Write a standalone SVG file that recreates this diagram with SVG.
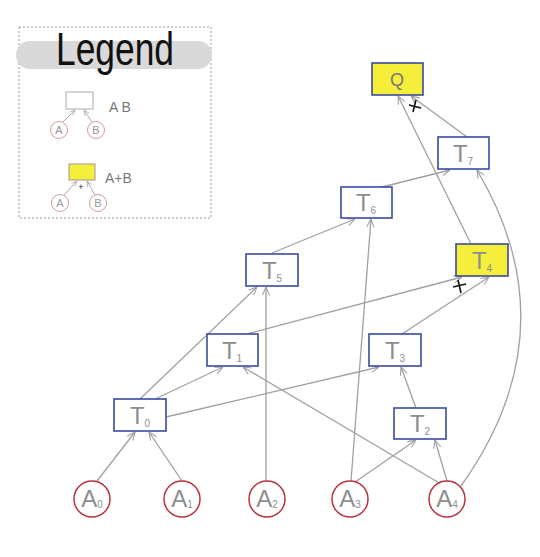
<svg xmlns="http://www.w3.org/2000/svg" width="540" height="557" viewBox="0 0 540 557">
<defs>
<marker id="ah" viewBox="0 0 10 10" refX="10" refY="5" markerWidth="9" markerHeight="9" orient="auto" markerUnits="userSpaceOnUse"><path d="M1,1 L10,5 L1,9" fill="none" stroke="#a0a0a0" stroke-width="1.2"/></marker>
<marker id="ahs" viewBox="0 0 10 10" refX="10" refY="5" markerWidth="6" markerHeight="6" orient="auto" markerUnits="userSpaceOnUse"><path d="M1,1 L10,5 L1,9" fill="none" stroke="#aaa" stroke-width="1.2"/></marker>
<style>
.e{fill:none;stroke:#a0a0a0;stroke-width:1.3;marker-end:url(#ah)}
.le{stroke:#aaa;stroke-width:1;marker-end:url(#ahs)}
.box{fill:#fff;stroke:#3a4aa0;stroke-width:1.6}
.ybox{fill:#f5ee3a;stroke:#3a4aa0;stroke-width:1.6}
.cir{fill:#fff;stroke:#b8323f;stroke-width:1.5}
.t{font-family:"Liberation Sans",sans-serif;fill:#8e8e8e;font-size:24px;text-anchor:middle}
.s{font-size:10px}
.lg{font-family:"Liberation Sans",sans-serif;fill:#999;font-size:11px;text-anchor:middle}
.lt{font-family:"Liberation Sans",sans-serif;fill:#777;font-size:14px}
.plus{stroke:#111;stroke-width:1.6;fill:none}
</style>
</defs>
<rect width="540" height="557" fill="#fff"/>
<g id="legend">
<rect x="19" y="27" width="192" height="191" fill="none" stroke="#999" stroke-width="1" stroke-dasharray="2,2"/>
<rect x="16" y="41" width="196" height="28" rx="14" fill="#d9d9d9"/>
<text x="56" y="65" font-family="Liberation Sans,sans-serif" font-size="47" fill="#111" textLength="118" lengthAdjust="spacingAndGlyphs">Legend</text>
<rect x="66" y="92" width="27" height="17" fill="#fff" stroke="#aaa" stroke-width="1"/>
<line class="le" x1="63" y1="122" x2="75" y2="110"/>
<line class="le" x1="92" y1="122" x2="84" y2="110"/>
<circle cx="59" cy="130" r="8.5" fill="#fff" stroke="#d49a9a" stroke-width="1"/>
<circle cx="96" cy="130" r="8.5" fill="#fff" stroke="#d49a9a" stroke-width="1"/>
<text class="lg" x="59" y="134">A</text>
<text class="lg" x="96" y="134">B</text>
<text class="lt" x="109" y="112">A B</text>
<rect x="69" y="164" width="26" height="16" fill="#f5ee3a" stroke="#999" stroke-width="1"/>
<line class="le" x1="64" y1="195" x2="77" y2="181"/>
<line class="le" x1="95" y1="195" x2="87" y2="181"/>
<circle cx="60" cy="203" r="8.5" fill="#fff" stroke="#d49a9a" stroke-width="1"/>
<circle cx="98" cy="203" r="8.5" fill="#fff" stroke="#d49a9a" stroke-width="1"/>
<text class="lg" x="60" y="207">A</text>
<text class="lg" x="98" y="207">B</text>
<text x="81" y="190" font-family="Liberation Sans,sans-serif" font-size="9" fill="#222" text-anchor="middle">+</text>
<text class="lt" x="105" y="183">A+B</text>
</g>
<g id="connectors">
<line class="e" x1="97" y1="481" x2="135" y2="432"/>
<line class="e" x1="182" y1="481" x2="149" y2="432"/>
<line class="e" x1="266" y1="481" x2="266" y2="287"/>
<line class="e" x1="351" y1="481" x2="371" y2="219"/>
<line class="e" x1="355" y1="482" x2="416" y2="440"/>
<line class="e" x1="447" y1="481" x2="435" y2="440"/>
<path class="e" d="M461,486 Q572,330 477,170"/>
<line class="e" x1="441" y1="484" x2="243" y2="367"/>
<line class="e" x1="155" y1="399" x2="223" y2="367"/>
<line class="e" x1="140" y1="399" x2="257" y2="287"/>
<line class="e" x1="166" y1="417" x2="379" y2="367"/>
<line class="e" x1="247" y1="334" x2="462" y2="277"/>
<line class="e" x1="402" y1="334" x2="489" y2="277"/>
<line class="e" x1="416" y1="408" x2="401" y2="367"/>
<line class="e" x1="272" y1="253" x2="355" y2="219"/>
<line class="e" x1="382" y1="187" x2="450" y2="170"/>
<line class="e" x1="467" y1="137" x2="411" y2="96"/>
<line class="e" x1="471" y1="244" x2="398" y2="96"/>
<path class="plus" d="M453,287 L466,284 M458,280 L461,293"/>
<path class="plus" d="M409,105 L421,108 M416,100 L413,112"/>
</g>
<g id="Q"><rect class="ybox" x="372" y="63" width="51" height="32"/><text class="t" x="397" y="86" style="fill:#777;font-size:18px">Q</text></g>
<g id="T7"><rect class="box" x="438" y="137" width="51" height="32"/><text class="t" x="463" y="162">T<tspan class="s" dy="3">7</tspan></text></g>
<g id="T6"><rect class="box" x="341" y="187" width="51" height="31"/><text class="t" x="366" y="211">T<tspan class="s" dy="3">6</tspan></text></g>
<g id="T5"><rect class="box" x="246" y="254" width="52" height="32"/><text class="t" x="272" y="279">T<tspan class="s" dy="3">5</tspan></text></g>
<g id="T4"><rect class="ybox" x="456" y="244" width="52" height="32"/><text class="t" x="482" y="269">T<tspan class="s" dy="3">4</tspan></text></g>
<g id="T1"><rect class="box" x="207" y="334" width="51" height="32"/><text class="t" x="232" y="359">T<tspan class="s" dy="3">1</tspan></text></g>
<g id="T3"><rect class="box" x="369" y="334" width="52" height="32"/><text class="t" x="395" y="359">T<tspan class="s" dy="3">3</tspan></text></g>
<g id="T0"><rect class="box" x="114" y="399" width="52" height="32"/><text class="t" x="140" y="424">T<tspan class="s" dy="3">0</tspan></text></g>
<g id="T2"><rect class="box" x="394" y="408" width="52" height="31"/><text class="t" x="420" y="432">T<tspan class="s" dy="3">2</tspan></text></g>
<g id="A0"><circle class="cir" cx="92" cy="499" r="18"/><text class="t" x="92" y="507">A<tspan class="s" dy="1">0</tspan></text></g>
<g id="A1"><circle class="cir" cx="182" cy="499" r="18"/><text class="t" x="182" y="507">A<tspan class="s" dy="1">1</tspan></text></g>
<g id="A2"><circle class="cir" cx="267" cy="499" r="18"/><text class="t" x="267" y="507">A<tspan class="s" dy="1">2</tspan></text></g>
<g id="A3"><circle class="cir" cx="350" cy="499" r="18"/><text class="t" x="350" y="507">A<tspan class="s" dy="1">3</tspan></text></g>
<g id="A4"><circle class="cir" cx="447" cy="499" r="18"/><text class="t" x="447" y="507">A<tspan class="s" dy="1">4</tspan></text></g>
</svg>
